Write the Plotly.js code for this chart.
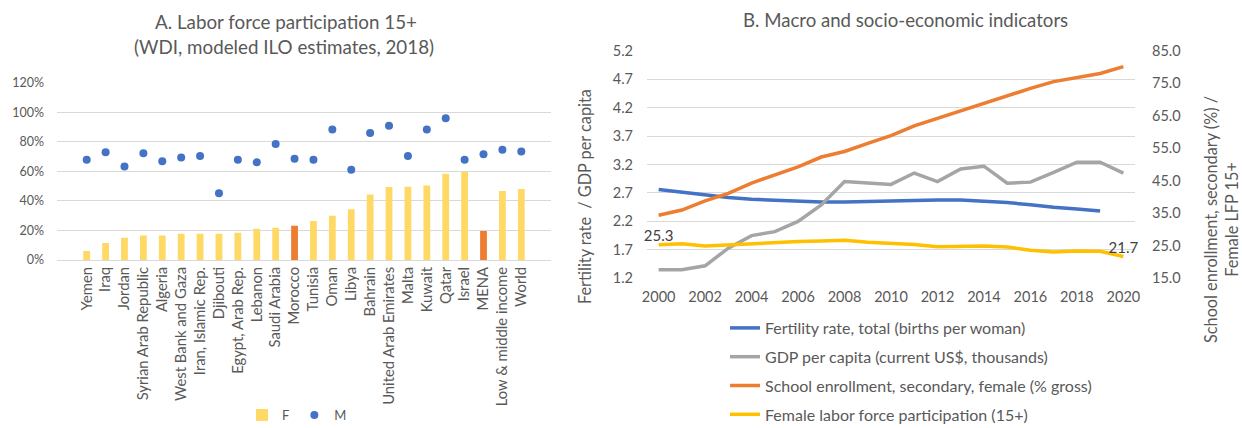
<!DOCTYPE html>
<html>
<head>
<meta charset="utf-8">
<script src="https://cdn.plot.ly/plotly-3.0.1.min.js"></script>
<style>html,body{margin:0;padding:0;background:#fff;}#chart{width:1242px;height:428px;}</style>
</head>
<body>
<div id="chart"></div>
<script>
// Panel A data
const countries = ["Yemen","Iraq","Jordan","Syrian Arab Republic","Algeria","West Bank and Gaza","Iran, Islamic Rep.","Djibouti","Egypt, Arab Rep.","Lebanon","Saudi Arabia","Morocco","Tunisia","Oman","Libya","Bahrain","United Arab Emirates","Malta","Kuwait","Qatar","Israel","MENA","Low & middle income","World"];
const femaleLFP = [0.061,0.115,0.151,0.165,0.165,0.178,0.178,0.178,0.185,0.212,0.219,0.232,0.264,0.300,0.343,0.444,0.494,0.496,0.505,0.584,0.598,0.196,0.467,0.480];
const maleLFP = [0.679,0.729,0.632,0.722,0.668,0.693,0.704,0.451,0.679,0.661,0.785,0.686,0.679,0.884,0.611,0.859,0.909,0.704,0.884,0.959,0.679,0.715,0.747,0.735];
const highlighted = ["Morocco","MENA"];

// Panel B data
const years = [2000,2001,2002,2003,2004,2005,2006,2007,2008,2009,2010,2011,2012,2013,2014,2015,2016,2017,2018,2019,2020];
const fertility = [2.76,2.71,2.66,2.62,2.59,2.57,2.55,2.54,2.54,2.55,2.565,2.576,2.576,2.576,2.559,2.53,2.494,2.447,2.418,2.383,null];
const gdpPerCapita = [1.35,1.35,1.42,1.73,1.95,2.02,2.20,2.49,2.90,2.87,2.85,3.05,2.90,3.12,3.17,2.87,2.89,3.06,3.24,3.24,3.05];
const schoolEnrollment = [34.4,36.0,38.8,41.1,44.3,46.8,49.3,52.3,54.0,56.5,58.9,61.9,64.2,66.5,68.8,71.2,73.4,75.5,76.8,78.0,80.1];
const femaleLFPSeries = [25.3,25.6,24.9,25.3,25.7,26.0,26.3,26.5,26.7,26.1,25.8,25.4,24.7,24.9,24.9,24.6,23.6,23.1,23.4,23.3,21.7];

const FONT = "Lato, 'Liberation Sans', sans-serif";
const GRAY = "#595959";
const GRID = "#D9D9D9";

const barColors = countries.map(c => highlighted.includes(c) ? "#ED7D31" : "#FFD966");
const flfpLabels = femaleLFPSeries.map((v,i) => (i===0 || i===femaleLFPSeries.length-1) ? v.toFixed(1) : "");

const traces = [
  {type:"bar", x:countries, y:femaleLFP, name:"F", marker:{color:barColors}, xaxis:"x", yaxis:"y", legend:"legend", width:0.36},
  {type:"scatter", mode:"markers", x:countries, y:maleLFP, name:"M", marker:{color:"#4472C4", size:8}, xaxis:"x", yaxis:"y", legend:"legend"},
  {type:"scatter", mode:"lines", x:years, y:fertility, name:"Fertility rate, total (births per woman)", line:{color:"#4472C4", width:3.5}, xaxis:"x2", yaxis:"y2", legend:"legend2", legendgroup:"a"},
  {type:"scatter", mode:"lines", x:years, y:gdpPerCapita, name:"GDP per capita (current US$, thousands)", line:{color:"#A5A5A5", width:3.5}, xaxis:"x2", yaxis:"y2", legend:"legend2", legendgroup:"b"},
  {type:"scatter", mode:"lines", x:years, y:schoolEnrollment, name:"School enrollment, secondary, female (% gross)", line:{color:"#ED7D31", width:3.5}, xaxis:"x2", yaxis:"y3", legend:"legend2", legendgroup:"c"},
  {type:"scatter", mode:"lines+text", x:years, y:femaleLFPSeries, name:"Female labor force participation (15+)", line:{color:"#FFC000", width:3.5}, text:flfpLabels, textposition:"top center", cliponaxis:false, textfont:{family:FONT, size:15, color:"#404040"}, xaxis:"x2", yaxis:"y3", legend:"legend2", legendgroup:"d"}
];

const layout = {
  width:1242, height:428,
  margin:{l:0,r:0,t:0,b:0,autoexpand:false},
  paper_bgcolor:"#fff", plot_bgcolor:"#fff",
  font:{family:FONT, color:GRAY},
  showlegend:true,
  xaxis:{domain:[57/1242, 551/1242], type:"category", tickangle:-90, tickfont:{size:14.8, color:GRAY}, showgrid:false, showline:false, ticks:"", ticklabelstandoff:3, anchor:"y"},
  yaxis:{domain:[(428-260)/428, (428-82.7)/428], range:[0,1.2], dtick:0.2, tickformat:".0%", tickfont:{size:12.5, color:GRAY}, gridcolor:GRID, zeroline:true, zerolinecolor:GRID, showline:false, ticks:"", ticklabelstandoff:12, anchor:"x"},
  xaxis2:{domain:[647/1242, 1135/1242], range:[1999.5,2020.5], tickvals:[2000,2002,2004,2006,2008,2010,2012,2014,2016,2018,2020], tickfont:{size:14.5, color:GRAY}, showgrid:false, showline:false, zeroline:false, ticks:"", ticklabelstandoff:8, anchor:"y2"},
  yaxis2:{domain:[(428-278.3)/428, (428-50.7)/428], range:[1.2,5.2], dtick:0.5, tick0:1.2, tickformat:".1f", tickfont:{size:14.5, color:GRAY}, gridcolor:GRID, zeroline:false, showline:false, ticks:"", ticklabelstandoff:13, anchor:"x2"},
  yaxis3:{domain:[(428-278.3)/428, (428-50.7)/428], range:[15,85], dtick:10, tick0:15, tickformat:".1f", tickfont:{size:14.5, color:GRAY}, overlaying:"y2", side:"right", showgrid:false, zeroline:false, showline:false, ticks:"", ticklabelstandoff:16, anchor:"x2"},
  legend:{orientation:"h", x:242/1242, y:(428-400)/428, xanchor:"left", yanchor:"top", font:{size:13, color:GRAY}, bgcolor:"rgba(0,0,0,0)"},
  legend2:{orientation:"v", x:725/1242, y:(428-311)/428, xanchor:"left", yanchor:"top", font:{size:16, color:GRAY}, traceorder:"grouped", tracegroupgap:5, bgcolor:"rgba(0,0,0,0)"},
  annotations:[
    {text:"A. Labor force participation 15+", xref:"paper", yref:"paper", x:286/1242, y:(428-22)/428, xanchor:"center", yanchor:"middle", showarrow:false, font:{size:18.8, color:GRAY, family:FONT}},
    {text:"(WDI, modeled ILO estimates, 2018)", xref:"paper", yref:"paper", x:284/1242, y:(428-46.5)/428, xanchor:"center", yanchor:"middle", showarrow:false, font:{size:18.8, color:GRAY, family:FONT}},
    {text:"B. Macro and socio-economic indicators", xref:"paper", yref:"paper", x:905/1242, y:(428-20)/428, xanchor:"center", yanchor:"middle", showarrow:false, font:{size:18.6, color:GRAY, family:FONT}},
    {text:"Fertility rate  / GDP per capita", xref:"paper", yref:"paper", x:584/1242, y:(428-197)/428, xanchor:"center", yanchor:"middle", textangle:-90, showarrow:false, font:{size:16.3, color:GRAY, family:FONT}},
    {text:"School enrollment, secondary (%) /<br>Female LFP 15+", xref:"paper", yref:"paper", x:1221/1242, y:(428-220)/428, xanchor:"center", yanchor:"middle", textangle:-90, showarrow:false, font:{size:16.3, color:GRAY, family:FONT}}
  ]
};

Plotly.newPlot("chart", traces, layout, {displayModeBar:false, staticPlot:true});
</script>
</body>
</html>
